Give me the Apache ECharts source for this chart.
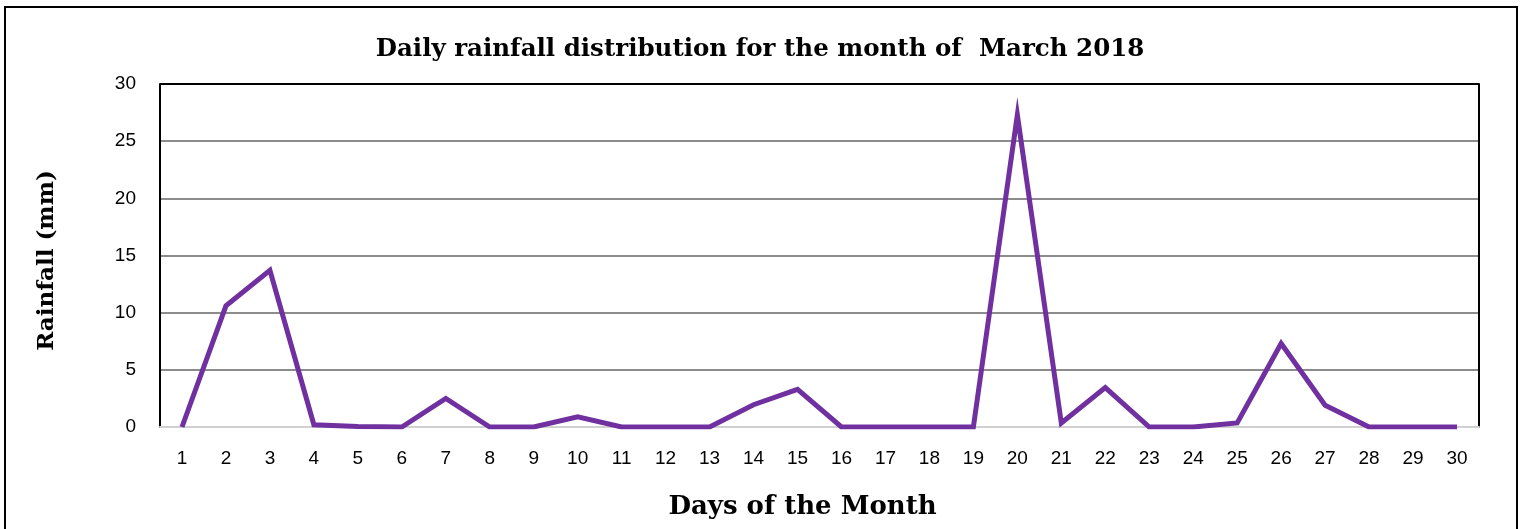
<!DOCTYPE html>
<html>
<head>
<meta charset="utf-8">
<script src="https://cdn.jsdelivr.net/npm/echarts@6/dist/echarts.min.js"></script>
<style>
  html, body { margin: 0; padding: 0; background: #fff; overflow: hidden; width: 1520px; height: 529px; }
  #frame { position: absolute; left: 4px; top: 6px; width: 1514px; height: 523px; border: 2px solid #000; border-bottom: none; box-sizing: border-box; }
  #chart { position: absolute; left: 0; top: 0; width: 1520px; height: 529px; }
</style>
</head>
<body>
<div id="frame"></div>
<div id="chart"></div>
<script>
const titleText = 'Daily rainfall distribution for the month of  March 2018';
const xAxisTitle = 'Days of the Month';
const yAxisTitle = 'Rainfall (mm)';
const days = ['1','2','3','4','5','6','7','8','9','10','11','12','13','14','15','16','17','18','19','20','21','22','23','24','25','26','27','28','29','30'];
const rainfall = [0, 10.6, 13.7, 0.2, 0.05, 0, 2.5, 0, 0, 0.9, 0, 0, 0, 1.95, 3.3, 0, 0, 0, 0, 27.3, 0.35, 3.45, 0, 0, 0.35, 7.3, 1.9, 0, 0, 0];
const yTicks = { min: 0, max: 30, interval: 5 };

const chart = echarts.init(document.getElementById('chart'), null, { renderer: 'canvas', width: 1520, height: 529 });
const serif = '"DejaVu Serif", "Liberation Serif", serif';
const sans = '"Liberation Sans", "DejaVu Sans", sans-serif';
chart.setOption({
  animation: false,
  backgroundColor: 'transparent',
  title: {
    text: titleText,
    left: 'center',
    top: 32,
    textStyle: { fontFamily: serif, fontWeight: 'bold', fontSize: 24.5, color: '#000' }
  },
  grid: { left: 160, right: 41, top: 84, bottom: 102, containLabel: false },
  xAxis: {
    type: 'category',
    data: days,
    boundaryGap: true,
    name: xAxisTitle,
    nameLocation: 'middle',
    nameGap: 67,
    nameTextStyle: { fontFamily: serif, fontWeight: 'bold', fontSize: 26, color: '#000', padding: [0, 34, 0, 0] },
    axisLine: { show: true, lineStyle: { color: '#d0d0d0', width: 2 } },
    axisTick: { show: false },
    axisLabel: { fontFamily: sans, fontSize: 19, color: '#000', margin: 22, interval: 0 },
    splitLine: { show: false }
  },
  yAxis: [{
    type: 'value',
    min: yTicks.min, max: yTicks.max, interval: yTicks.interval,
    name: yAxisTitle,
    nameLocation: 'middle',
    nameRotate: 90,
    nameGap: 101,
    nameTextStyle: { fontFamily: serif, fontWeight: 'bold', fontSize: 23, color: '#000', padding: [0, 10, 0, 0] },
    axisLine: { show: true, lineStyle: { color: '#000', width: 2 } },
    axisTick: { show: false },
    axisLabel: { fontFamily: sans, fontSize: 19, color: '#000', margin: 24 },
    splitLine: { show: true, lineStyle: { width: 2, color: ['#d0d0d0', '#8c8c8c', '#8c8c8c', '#8c8c8c', '#8c8c8c', '#8c8c8c', '#000'] } }
  }, {
    type: 'value',
    position: 'right',
    min: yTicks.min, max: yTicks.max, interval: yTicks.interval,
    axisLine: { show: true, lineStyle: { color: '#000', width: 2 } },
    axisTick: { show: false },
    axisLabel: { show: false },
    splitLine: { show: false }
  }],
  series: [{
    type: 'line',
    data: rainfall,
    yAxisIndex: 0,
    showSymbol: false,
    symbol: 'none',
    lineStyle: { color: '#7030A0', width: 5, join: 'miter' },
    z: 5
  }]
});
</script>
</body>
</html>
